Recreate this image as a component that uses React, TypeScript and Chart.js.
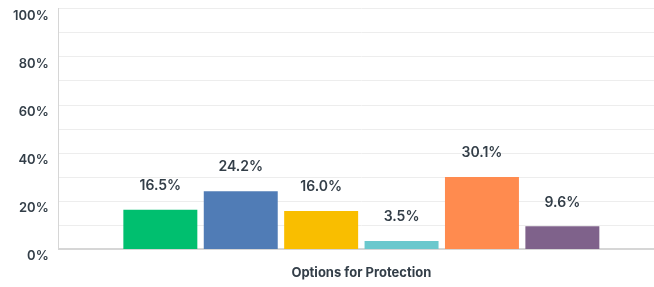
import React, { useEffect, useRef } from "react";
import { Chart, registerables } from "chart.js";

Chart.register(...registerables);

const categories = ["Options for Protection"];
const seriesNames = ["Option 1", "Option 2", "Option 3", "Option 4", "Option 5", "Option 6"];
const seriesValues = [16.5, 24.2, 16.0, 3.5, 30.1, 9.6];
const seriesColors = ["#00bf6f", "#507cb6", "#f9be00", "#6bc8cd", "#ff8b4f", "#7f628b"];
const yTickValues = [0, 20, 40, 60, 80, 100];

const TEXT = "#333e48";
const FONT = "Inter, 'Open Sans', sans-serif";

const valueLabels = {
  id: "valueLabels",
  afterDatasetsDraw(chart: any) {
    const ctx = chart.ctx;
    ctx.save();
    ctx.font = `600 14px ${FONT}`;
    ctx.fillStyle = TEXT;
    ctx.textAlign = "center";
    ctx.textBaseline = "middle";
    chart.data.datasets.forEach((ds: any, i: number) => {
      const meta = chart.getDatasetMeta(i);
      meta.data.forEach((bar: any, j: number) => {
        const v = ds.data[j];
        ctx.fillText(v.toFixed(1) + "%", bar.x, bar.y - 24);
      });
    });
    ctx.restore();
  },
};

export default function App() {
  const ref = useRef<HTMLCanvasElement>(null);
  useEffect(() => {
    const chart = new Chart(ref.current as HTMLCanvasElement, {
      type: "bar",
      data: {
        labels: categories,
        datasets: seriesNames.map((n, i) => ({
          label: n,
          data: [seriesValues[i]],
          backgroundColor: seriesColors[i],
          borderWidth: 0,
        })),
      },
      options: {
        responsive: false,
        animation: false,
        layout: { padding: { left: 3, right: 0, top: 0, bottom: -10 } },
        plugins: { legend: { display: false }, tooltip: { enabled: false } },
        datasets: { bar: { categoryPercentage: 0.797, barPercentage: 0.92 } },
        scales: {
          x: {
            grid: { display: false, drawTicks: false },
            border: { color: "#d6d6d6", width: 2 },
            ticks: { color: TEXT, font: { family: FONT, size: 13, weight: "bold" }, padding: 16 },
          },
          y: {
            min: 0,
            max: 100,
            grid: { color: "#ededed", drawTicks: false, lineWidth: 1 },
            border: { color: "#d6d6d6", width: 1 },
            ticks: {
              stepSize: 10,
              padding: 10,
              labelOffset: 7,
              color: TEXT,
              font: { family: FONT, size: 13, weight: "600" },
              callback: (v: any) => (yTickValues.includes(Number(v)) ? v + "%" : ""),
            },
          },
        },
      },
      plugins: [valueLabels],
    });
    return () => chart.destroy();
  }, []);
  return (
    <div style={{ position: "fixed", left: 0, top: 0, width: 654, height: 287, overflow: "hidden", background: "#fff" }}>
      <canvas
        ref={ref}
        width={664}
        height={296}
        style={{ display: "block", position: "absolute", left: 0, top: -9, width: 664, height: 296 }}
      />
    </div>
  );
}
